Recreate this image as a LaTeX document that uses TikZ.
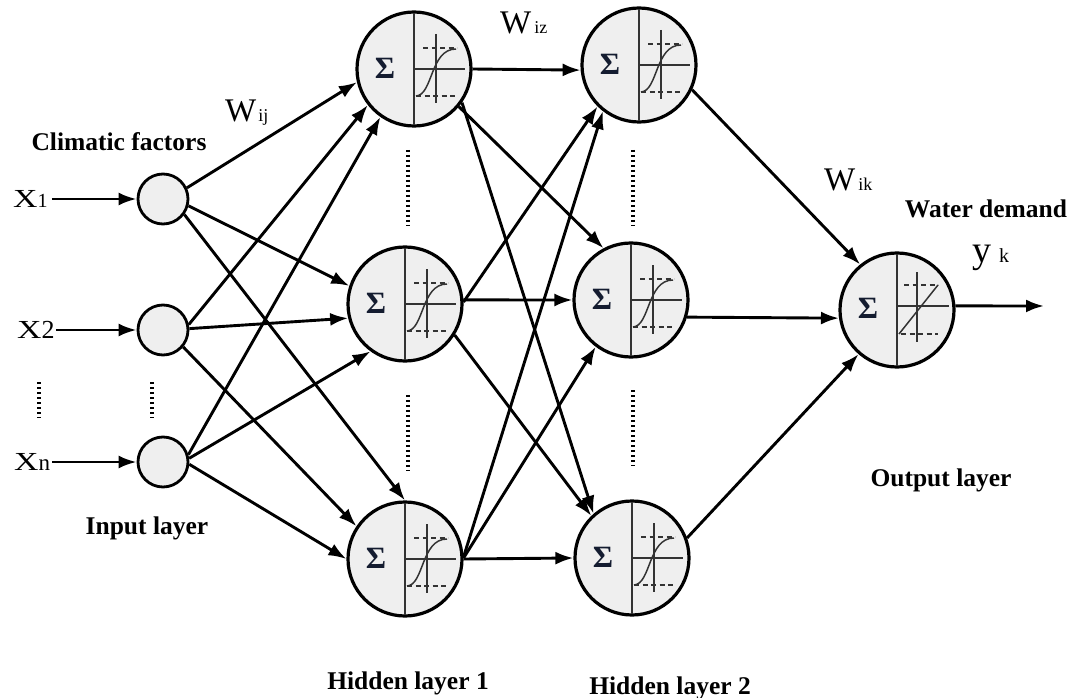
\documentclass[tikz,border=0pt]{standalone}
\usepackage{fontspec}
\setmainfont{Liberation Serif}
\usetikzlibrary{arrows.meta}
\definecolor{cellfill}{HTML}{EFEFEF}
\definecolor{axisgray}{HTML}{333333}
\definecolor{sigmacol}{HTML}{141C30}

\begin{document}
\begin{tikzpicture}[x=1pt,y=-1pt,
  neuron/.style={circle,draw=black,line width=3.2pt,fill=cellfill,minimum size=114pt,inner sep=0pt},
  innode/.style={circle,draw=black,line width=2.8pt,fill=cellfill,minimum size=50pt,inner sep=0pt},
  link/.style={line width=2.9pt,-{Latex[length=18pt,width=13pt]}},
  dotline/.style={line width=3.2pt,dash pattern=on 2.4pt off 2.6pt},
  lbl/.style={font=\fontsize{25.5}{28}\selectfont\bfseries,inner sep=0pt},
  xlbl/.style={font=\fontsize{26}{28}\selectfont,inner ysep=0pt,inner xsep=2pt},
  wlbl/.style={font=\fontsize{33}{35}\selectfont,inner sep=0pt,anchor=base west},
  axis/.style={draw=axisgray,line width=1.5pt},
  divider/.style={draw=axisgray,line width=2pt},
  asym/.style={axis,dash pattern=on 5pt off 3.5pt},
  sigmalbl/.style={font=\fontsize{31}{33}\selectfont\bfseries,text=sigmacol,inner sep=0pt},
  pics/sigmoid/.style={code={
     \draw[divider] (0,-56) -- (0,56);
     \node[sigmalbl] at (-29,-1) {Σ};
     \draw[axis] (1,0) -- (51,0);
     \draw[axis] (22,-35) -- (22,34);
     \draw[asym] (9,-21) -- (43,-21);
     \draw[asym] (2,27) -- (42,27);
     \draw[axis] (2,27) .. controls (19,26) and (16,-20) .. (42,-20);
  }},
  pics/linear/.style={code={
     \draw[divider] (0,-56) -- (0,56);
     \node[sigmalbl] at (-29,-2) {Σ};
     \draw[axis] (1,-4) -- (52,-4);
     \draw[axis] (20,-38) -- (20,32);
     \draw[asym] (7,-25) -- (41,-25);
     \draw[asym] (4,24) -- (41,24);
     \draw[axis] (2,24) -- (41,-25);
  }},
]
\useasboundingbox (0,0) rectangle (1088,698);

% input layer
\node[innode] (i1) at (163,199) {};
\node[innode] (i2) at (163,330) {};
\node[innode] (i3) at (163,462) {};

% hidden layer 1
\node[neuron] (h11) at (414,69) {};
\node[neuron] (h12) at (405,304) {};
\node[neuron] (h13) at (405,559) {};
% hidden layer 2
\node[neuron] (h21) at (639,65) {};
\node[neuron] (h22) at (631,300) {};
\node[neuron] (h23) at (632,558) {};
% output layer
\node[neuron] (out) at (897,310) {};

\pic at (h11) {sigmoid};
\pic at (h12) {sigmoid};
\pic at (h13) {sigmoid};
\pic at (h21) {sigmoid};
\pic at (h22) {sigmoid};
\pic at (h23) {sigmoid};
\pic at (out) {linear};

% input labels and their arrows
\node[xlbl,anchor=west,inner xsep=4pt] (x1) at (9,199) {\scalebox{1.3}[1]{X}{\fontsize{20}{22}\selectfont 1}};
\node[xlbl,anchor=west,inner xsep=1pt] (x2) at (16,330) {\scalebox{1.3}[1]{X}2};
\node[xlbl,anchor=west] (x3) at (12,462) {\scalebox{1.3}[1]{X}{\fontsize{23}{24}\selectfont n}};
\draw[link] (x1) -- (i1);
\draw[link] (x2) -- (i2);
\draw[link] (x3) -- (i3);

% input -> hidden layer 1
\draw[link] (i1.25)  -- (h11.193);
\draw[link] (i1.-15) -- (h12.162);
\draw[link] (i1.-36) -- (h13.90);
\draw[link] (i2.12)  -- (h11.218);
\draw[link] (i2.3)   -- (h12.194);
\draw[link] (i2.-40) -- (h13.146);
\draw[link] (i3.16)  -- (h11.235);
\draw[link] (i3.8)   -- (h12.234);
\draw[link] (i3.-5)  -- (h13.180);

% hidden layer 1 -> hidden layer 2
\draw[link] (h11.0)   -- (h21.185);
\draw[link] (h11.-40) -- (h22.118);
\draw[link] (h11.-35) -- (h23.131);
\draw[link] (h12.2)   -- (h21.225);
\draw[link] (h12.4)   -- (h22.180);
\draw[link] (h12.-32) -- (h23.134);
\draw[link] (h13.2)   -- (h21.232);
\draw[link] (h13.1)   -- (h22.233);
\draw[link] (h13.0)   -- (h23.180);

% hidden layer 2 -> output
\draw[link] (h21.-25) -- (out.129);
\draw[link] (h22.-17) -- (out.188);
\draw[link] (h23.20)  -- (out.229);

% network output
\coordinate (yout) at (1044,306);
\draw[link] (out.4) -- (yout);

% ellipsis dots between units
\draw[dotline] (39,382) -- (39,418);
\draw[dotline] (152,382) -- (152,418);
\draw[dotline] (408,150) -- (408,226);
\draw[dotline] (408,395) -- (408,471);
\draw[dotline] (633,150) -- (633,226);
\draw[dotline] (633,390) -- (633,466);

% weight labels
\node[wlbl] (wij) at (225,122) {W\kern2pt{\fontsize{18}{19}\selectfont ij}};
\node[wlbl] (wiz) at (500,34) {W\kern3pt{\fontsize{18}{19}\selectfont iz}};
\node[wlbl] (wik) at (824,190) {W\kern3pt{\fontsize{18}{19}\selectfont ik}};
\node[anchor=base west,inner sep=0pt,font=\fontsize{38}{40}\selectfont] (yk) at (972,262) {y\kern8pt{\fontsize{20}{21}\selectfont k}};

% layer captions
\node[lbl] (clim) at (119,142) {Climatic factors};
\node[lbl] (wd) at (986,209) {Water demand};
\node[lbl] (inlab) at (147,528) {Input layer};
\node[lbl] (outlab) at (941,480) {Output layer};
\node[lbl] (hl1) at (408,683) {Hidden layer 1};
\node[lbl] (hl2) at (670,688) {Hidden layer 2};
\end{tikzpicture}
\end{document}
